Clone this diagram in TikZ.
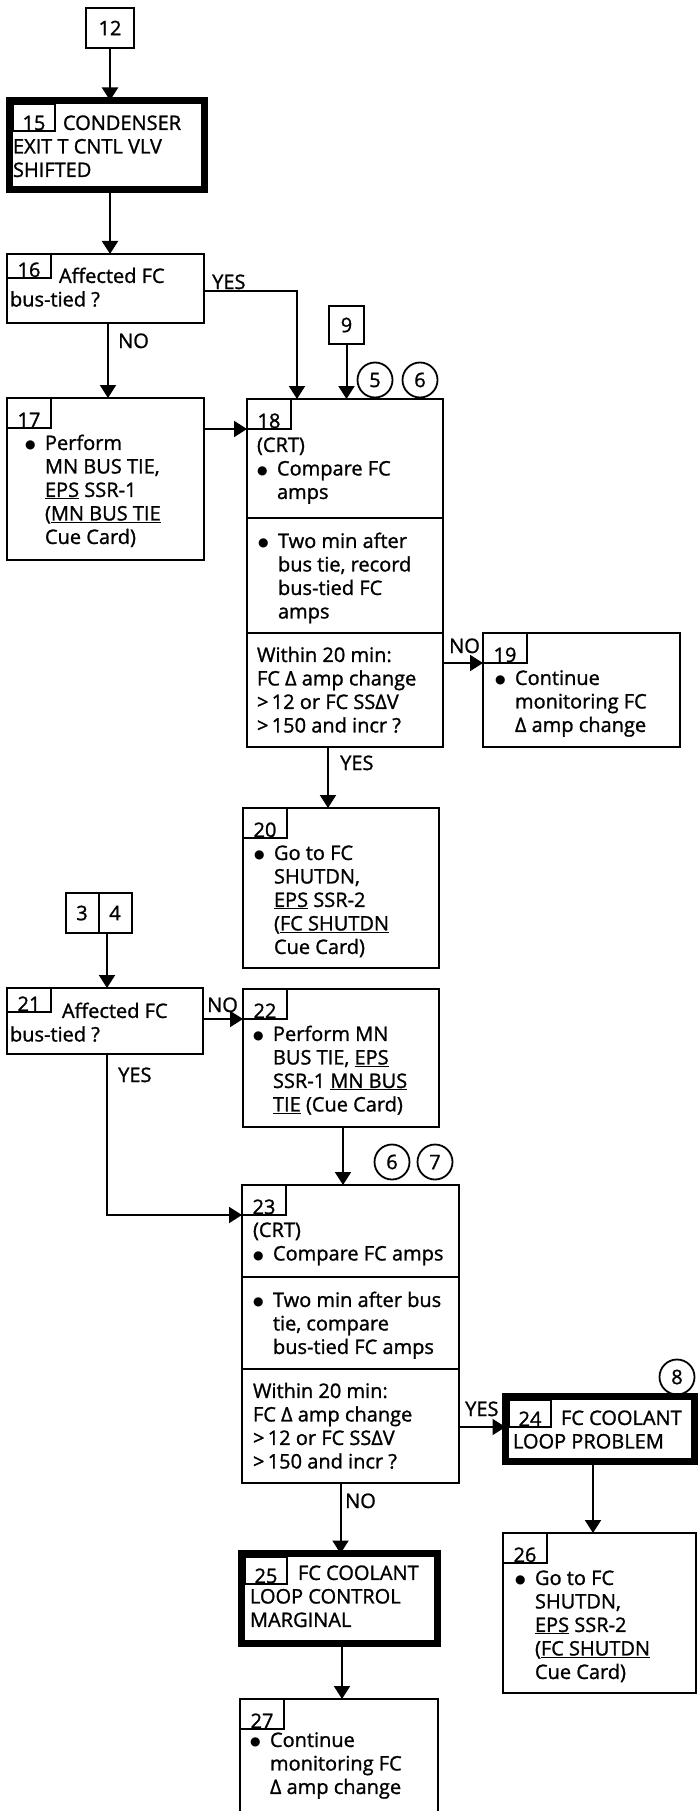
\documentclass[tikz,border=0pt]{standalone}
\usepackage{fontspec}
\setmainfont{Open Sans}[FakeBold=1.2]
\newfontfamily\symf{DejaVu Sans}
\usetikzlibrary{arrows.meta, positioning}

\newcommand{\fs}{\fontsize{20}{23.5}\selectfont}
\newcommand{\bul}{\makebox[20pt][l]{\raisebox{1pt}{\symf\fontsize{12}{12}\selectfont ●}}}
\newcommand{\ind}{\hspace*{20pt}}

\begin{document}
\begin{tikzpicture}[
  x=1pt, y=-1pt,
  ln/.style={line width=2pt},
  arr/.style={line width=2pt, -{Triangle[length=13pt,width=16pt]}},
  box/.style={draw, line width=2pt, anchor=north west, inner sep=0pt, outer sep=0pt},
  hbox/.style={draw, line width=7pt, anchor=north west, inner sep=0pt, outer sep=0pt},
  numbox/.style={draw, line width=2pt, anchor=north west, minimum width=44pt,
    inner xsep=0pt, inner ysep=1pt, text depth=0pt, outer sep=0pt, font=\fs},
  conn/.style={draw, line width=2pt, inner sep=0pt, outer sep=0pt, font=\fs},
  circ/.style={draw, circle, line width=1.8pt, minimum size=35pt, inner sep=0pt, font=\fs},
  txt/.style={anchor=north west, align=left, inner sep=0pt, outer sep=0pt, font=\fs},
  lbl/.style={anchor=base west, inner sep=0pt, font=\fs}
]
\fill[white] (0,0) rectangle (698,1811);
\useasboundingbox (0,0) rectangle (698,1811);

% off-page connectors
\node[conn, minimum width=48pt, minimum height=40pt] (c12) at (110,28) {12};
\node[conn, minimum width=35pt, minimum height=38pt] (c9) at (346.5,325) {9};
\node[conn, minimum width=33pt, minimum height=40pt] (c3) at (82,913) {3};
\node[conn, minimum width=33pt, minimum height=40pt, anchor=west] (c4) at (c3.east) {4};

% blocks
\node[hbox, minimum width=195pt, minimum height=89pt] (b15) at (9.5,100.5) {};
\node[box, minimum width=197pt, minimum height=69pt] (b16) at (7,254) {};
\node[box, minimum width=197pt, minimum height=162pt] (b17) at (7,398) {};
\node[box, minimum width=196pt, minimum height=348pt] (b18) at (247,399) {};
\node[box, minimum width=197pt, minimum height=114pt] (b19) at (483,633) {};
\node[box, minimum width=196pt, minimum height=160pt] (b20) at (243,808) {};
\node[box, minimum width=196pt, minimum height=66pt] (b21) at (7,988) {};
\node[box, minimum width=196pt, minimum height=138pt] (b22) at (243,989) {};
\node[box, minimum width=217pt, minimum height=298pt] (b23) at (242,1185) {};
\node[hbox, minimum width=189pt, minimum height=65pt] (b24) at (505.5,1396.5) {};
\node[hbox, minimum width=196pt, minimum height=90pt] (b25) at (241.5,1553.5) {};
\node[box, minimum width=193pt, minimum height=160pt] (b26) at (503,1533) {};
\node[box, minimum width=198pt, minimum height=120pt] (b27) at (240,1699) {};

\foreach \b/\y in {b18/518, b18/633, b23/1277, b23/1369}
  \draw[ln] (\b.west |- 0,\y) -- (\b.east |- 0,\y);

% step numbers
\foreach \n/\h/\t in {16/24/22, 17/30/28, 18/30/28, 19/30/28, 20/30/28,
                      21/24/22, 22/30/28, 23/30/28, 26/30/28, 27/30/28}
  \node[numbox, minimum height=\h pt, text height=\t pt] (n\n) at (b\n.north west) {\n};
\foreach \n in {15, 24, 25}
  \node[numbox, minimum width=42pt, minimum height=27pt, text height=25pt] (n\n)
    at ([shift={(3.5pt,-3.5pt)}]b\n.north west) {\n};

% circled references
\node[circ] (o5) at (375,380) {5};
\node[circ] (o6) at (420,380) {6};
\node[circ] (o6b) at (392,1162) {6};
\node[circ] (o7) at (435,1162) {7};
\node[circ] (o8) at (677,1377) {8};

% texts
\node[txt] (t15) at (13,113.5) {\strut\hspace*{50pt}CONDENSER\\EXIT T CNTL VLV\\SHIFTED};
\node[txt] (t16) at (10,266.5) {\strut\hspace*{49pt}Affected FC\\bus-tied ?};
\node[txt] (t17) at (25,433.5) {\strut\bul Perform\\\ind MN BUS TIE,\\\ind \underline{EPS} SSR-1\\
  \ind (\underline{MN BUS TIE}\\\ind Cue Card)};
\node[txt] (t18a) at (257,435.5) {\strut(CRT)\\\bul Compare FC\\\ind amps};
\node[txt] (t18b) at (258,531.5) {\strut\bul Two min after\\\ind bus tie, record\\\ind bus-tied FC\\\ind amps};
\node[txt] (t18c) at (257,645.5) {\strut Within 20 min:\\FC Δ amp change\\>\,12 or FC SSΔV\\>\,150 and incr ?};
\node[txt] (t19) at (495,668.5) {\strut\bul Continue\\\ind monitoring FC\\\ind Δ amp change};
\node[txt] (t20) at (254,843.5) {\strut\bul Go to FC\\\ind SHUTDN,\\\ind \underline{EPS} SSR-2\\
  \ind (\underline{FC SHUTDN}\\\ind Cue Card)};
\node[txt] (t21) at (10,1001.5) {\strut\hspace*{52pt}Affected FC\\bus-tied ?};
\node[txt] (t22) at (253,1024.5) {\strut\bul Perform MN\\\ind BUS TIE, \underline{EPS}\\
  \ind SSR-1 \underline{MN BUS}\\\ind \underline{TIE} (Cue Card)};
\node[txt] (t23a) at (253,1220.5) {\strut(CRT)\\\bul Compare FC amps};
\node[txt] (t23b) at (253,1290.5) {\strut\bul Two min after bus\\\ind tie, compare\\\ind bus-tied FC amps};
\node[txt] (t23c) at (253,1381.5) {\strut Within 20 min:\\FC Δ amp change\\>\,12 or FC SSΔV\\>\,150 and incr ?};
\node[txt] (t24) at (513,1408.5) {\strut\hspace*{48pt}FC COOLANT\\LOOP PROBLEM};
\node[txt] (t25) at (250,1563.5) {\strut\hspace*{48pt}FC COOLANT\\LOOP CONTROL\\MARGINAL};
\node[txt] (t26) at (515,1568.5) {\strut\bul Go to FC\\\ind SHUTDN,\\\ind \underline{EPS} SSR-2\\
  \ind (\underline{FC SHUTDN}\\\ind Cue Card)};
\node[txt] (t27) at (250,1730.5) {\strut\bul Continue\\\ind monitoring FC\\\ind Δ amp change};

% branch labels
\node[lbl] (yes16) at (212,289) {YES};
\node[lbl] (no16) at (118,348) {NO};
\node[lbl] (no18) at (449,653) {NO};
\node[lbl] (yes18) at (340,770) {YES};
\node[lbl] (no21) at (207,1012) {NO};
\node[lbl] (yes21) at (118,1082) {YES};
\node[lbl] (yes23) at (465,1416) {YES};
\node[lbl] (no23) at (345,1508) {NO};

% flow
\draw[arr] (c12.south) -- (c12.south |- b15.north);
\draw[arr] (b15.south -| c12.south) -- (b16.north -| c12.south);
\draw[arr] ([xshift=2.5pt]b16.south) -- ([xshift=2.5pt]b17.north);
\draw[arr] ([yshift=-2.5pt]b16.east) -| ([xshift=-48pt]b18.north);
\draw[arr] (c9.south) -- (c9.south |- b18.north);
\draw[arr] (b17.east |- n18.south) -- (n18.south west);
\draw[arr] (b18.east |- n19.south) -- (n19.south west);
\draw[arr] ([xshift=-17pt]b18.south) -- ([xshift=-17pt]b18.south |- b20.north);
\draw[arr] ([xshift=-8pt]c4.south) -- ([xshift=-8pt]c4.south |- b21.north);
\draw[arr] (b21.east |- n22.south) -- (n22.south west);
\draw[arr] ([xshift=2pt]b21.south) |- (n23.south west);
\draw[arr] ([xshift=2pt]b22.south) -- ([xshift=2pt]b22.south |- b23.north);
\draw[arr] (b23.east |- n24.south) -- (b24.west |- n24.south);
\draw[arr] ([xshift=-10pt]b23.south) -- ([xshift=-10pt]b23.south |- b25.north);
\draw[arr] ([xshift=-7pt]b24.south) -- ([xshift=-7pt]b24.south |- b26.north);
\draw[arr] ([xshift=2.5pt]b25.south) -- ([xshift=2.5pt]b25.south |- b27.north);

\end{tikzpicture}
\end{document}
